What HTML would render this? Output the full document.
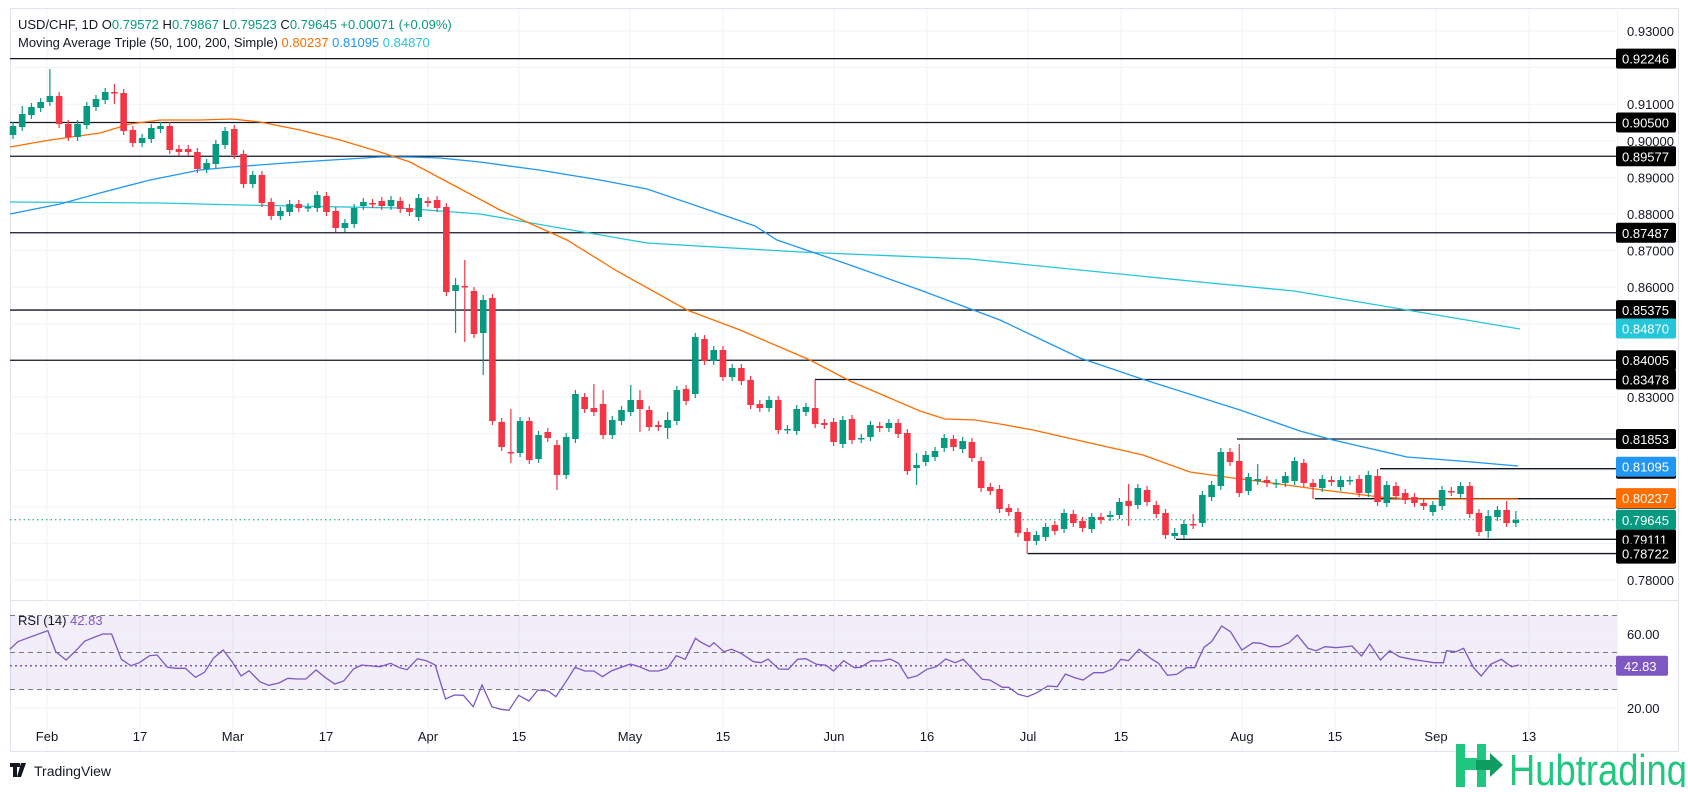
<!DOCTYPE html>
<html><head><meta charset="utf-8">
<style>
html,body{margin:0;padding:0;background:#fff;}
body{width:1688px;height:787px;overflow:hidden;font-family:"Liberation Sans",sans-serif;}
svg text{font-family:"Liberation Sans",sans-serif;}
</style></head>
<body>
<svg id="c" width="1688" height="787" xmlns="http://www.w3.org/2000/svg"></svg>
<script>
const S=document.getElementById('c');
let h='';
const Y=p=>31+(0.93-p)*3660;
// frame
h+='<rect x="10.5" y="8.5" width="1668" height="743" fill="none" stroke="#e0e3eb"/>';
h+='<line x1="10" y1="600.5" x2="1678" y2="600.5" stroke="#e0e3eb"/>';
h+='<line x1="1617.5" y1="8" x2="1617.5" y2="751" stroke="#f0f3fa"/>';
// grid
const months=[[47,'Feb'],[140,'17'],[233,'Mar'],[326,'17'],[428,'Apr'],[519,'15'],[630,'May'],[723,'15'],[834,'Jun'],[927,'16'],[1028,'Jul'],[1121,'15'],[1242,'Aug'],[1335,'15'],[1436,'Sep'],[1529,'13']];
months.forEach(m=>{h+=`<line x1="${m[0]}" y1="9" x2="${m[0]}" y2="751" stroke="#f0f3fa"/>`;
 h+=`<text x="${m[0]}" y="741" font-size="13" text-anchor="middle" fill="#131722">${m[1]}</text>`;});
for(let p=0.78;p<=0.931;p+=0.01){const y=Y(p);h+=`<line x1="10" y1="${y}" x2="1617" y2="${y}" stroke="#f0f3fa"/>`;}
// RSI pane
const R=v=>634+(60-v)*1.85;
h+=`<rect x="10" y="${R(70)}" width="1607" height="${R(30)-R(70)}" fill="#7e57c2" fill-opacity="0.1"/>`;
[60,20].forEach(v=>h+=`<line x1="10" y1="${R(v)}" x2="1617" y2="${R(v)}" stroke="#f0f3fa"/>`);
[70,50,30].forEach(v=>h+=`<line x1="10" y1="${R(v)}" x2="1617" y2="${R(v)}" stroke="#787b86" stroke-dasharray="5,4"/>`);
h+=`<line x1="10" y1="${R(42.83)}" x2="1617" y2="${R(42.83)}" stroke="#7e57c2" stroke-width="1.5" stroke-dasharray="2,3"/>`;
// horizontal levels
const full=[0.92246,0.905,0.89577,0.87487,0.85375,0.84005];
full.forEach(p=>h+=`<line x1="10" y1="${Y(p)}" x2="1617" y2="${Y(p)}" stroke="#131722" stroke-width="1.3"/>`);
const part=[[0.83478,815],[0.81853,1237],[0.81041,1380],[0.80221,1315],[0.79111,1176],[0.78722,1028]];
part.forEach(a=>{const y=Y(a[0]);h+=`<line x1="${a[1]}" y1="${y}" x2="1617" y2="${y}" stroke="#131722" stroke-width="1.3"/><line x1="${a[1]}" y1="${y}" x2="${a[1]}" y2="${y+(a[0]>0.82?0:0)}" stroke="#131722"/>`;});
h+=`<line x1="10" y1="${Y(0.79645)}" x2="1617" y2="${Y(0.79645)}" stroke="#089981" stroke-dasharray="1.5,3"/>`;
// MAs
const pl=(pts,col)=>h+=`<polyline fill="none" stroke="${col}" stroke-width="1.3" points="${pts.map(p=>p.join(',')).join(' ')}"/>`;
pl([[10,202],[160,203],[240,205],[400,208],[480,214],[560,228],[647,243],[800,252],[970,259],[1100,272],[1200,282],[1294,291],[1401,309],[1520,329]],'#26c6da');
pl([[10,214],[60,204],[100,193],[150,180],[200,170],[232,167],[300,162],[380,157],[410,157],[440,158],[480,162],[539,170],[600,180],[647,189],[700,207],[755,226],[777,240],[850,265],[920,290],[1000,320],[1080,358],[1145,380],[1240,410],[1300,431],[1333,440],[1407,457],[1460,461],[1518,466]],'#2196f3');
pl([[10,147],[50,140],[100,133],[130,124],[160,120],[200,120],[232,119],[260,122],[300,130],[340,140],[380,152],[410,162],[440,178],[500,210],[567,240],[617,271],[687,310],[740,330],[810,360],[850,381],[920,411],[945,419],[975,420],[1000,424],[1033,430],[1090,443],[1143,455],[1190,472],[1233,478],[1257,481],[1323,490],[1380,497],[1410,499],[1518,499]],'#ff6d00');
// candles [open,close,hi,lo]
const D=[[135,126],[127,114,106],[115,107],[108,102],[102,96,69],[96,124],[124,137],[137,124],[125,106],[107,99],[100,92],[92,93,84,104],[93,131],[130,143],[143,138],[139,128],[129,126],[126,150],[149,152],[149,152],[152,169],[169,163],[164,144],[145,131],[129,155],[154,184],[184,175],[175,203],[202,216],[216,211],[212,204],[204,208],[208,207],[208,195],[196,212],[211,228],[228,223],[224,208],[206,202],[203,204],[201,206],[206,200],[201,209],[208,212],[217,198],[201,203],[200,208],[207,292],[291,285,278,333],[286,287,260,342],[291,334],[333,300,295,375],[298,421],[422,447],[452,453,409,463],[453,421],[421,460],[459,435],[432,438],[445,475,440,490],[475,437],[439,394],[397,409],[408,412,384],[404,435,390],[435,420],[421,410],[412,400,385],[400,409,390,432],[410,427],[425,427],[428,420,412,439],[421,390],[389,401],[394,337,333],[339,361],[361,350],[350,377],[377,368],[368,381],[380,405],[404,408],[408,400],[400,430],[430,429],[431,409],[412,407],[408,424,380],[423,425],[422,442],[444,420],[419,440],[439,438],[437,425],[426,428],[428,423],[423,434],[433,471],[468,465,453,485],[462,455],[457,451],[448,438],[439,447],[449,441],[442,458],[461,488],[487,491],[489,509],[508,512],[512,533],[532,541,528,554],[541,535],[537,527],[525,531],[529,513],[514,523],[521,528],[529,517],[517,520],[517,515],[515,502],[501,506,484,526],[505,488],[490,502],[505,514],[513,535],[536,533,528,539],[535,524],[524,525,514],[523,495],[497,485],[486,452],[452,462],[461,493,444],[491,477],[481,479,464],[480,483],[484,483],[483,476],[481,461],[463,483],[483,487,479,499],[488,479],[480,482],[487,480],[481,480],[479,493],[493,475],[476,502,469],[503,485],[486,496],[493,500],[497,503],[503,506],[512,505],[506,490],[491,492],[494,486],[486,514],[513,532],[531,516,510,538],[517,510],[510,523,501],[523,520,511]];
D.forEach((d,i)=>{const x=13+9.22*i;const o=d[0],c=d[1];const g=c<o||(c==o);const col=c<=o?'#089981':'#f23645';
 const t=Math.min(o,c),b=Math.max(o,c);const hi=d[2]!==undefined?d[2]:t-4;const lo=d[3]!==undefined?d[3]:b+4;
 h+=`<line x1="${x}" y1="${hi}" x2="${x}" y2="${lo}" stroke="${col}" stroke-width="1.2"/>`;
 h+=`<rect x="${x-3.3}" y="${t}" width="6.6" height="${Math.max(b-t,1.5)}" fill="${col}"/>`;});
// RSI line
const z6=[[22,268],[40,245],[60,235],[107,212],[125,275],[148,300],[170,272],[190,243],[230,222],[250,222],[272,298],[293,317],[312,308],[335,287],[352,285],[375,322],[395,325],[415,325],[438,352],[458,337],[478,295],[500,270],[520,305],[540,348],[558,332],[582,365],[602,376],[625,369],[645,355],[665,357],[685,357],[708,330],[728,352],[750,372],[770,363],[792,327],[810,315],[832,318],[852,320],[875,310],[895,323],[912,329],[935,296],[955,302],[975,315],[998,417],[1018,405],[1038,406],[1060,440],[1080,375],[1102,440],[1122,448],[1140,451],[1162,406],[1185,423],[1205,390],[1228,393],[1245,410],[1268,365],[1288,322],[1310,333],[1330,333],[1350,350],[1370,332],[1392,322],[1412,312],[1432,320],[1455,333],[1475,333],[1495,325],[1515,287],[1535,298],[1558,235]].map(p=>[p[0]*0.4464,560+p[1]/3]);
const z7=[[0,245],[15,260],[22,248],[38,275],[50,268],[65,280],[85,305],[97,308],[108,297],[125,327],[140,328],[155,298],[168,296],[185,313],[200,316],[212,333],[228,302],[245,323],[255,322],[272,302],[288,303],[302,297],[315,310],[330,355],[345,347],[360,328],[375,320],[390,297],[405,308],[418,298],[448,358],[460,360],[480,382],[490,382],[505,403],[520,410],[535,398],[552,378],[567,380],[580,342],[595,353],[608,360],[625,338],[640,338],[655,327],[668,298],[680,302],[697,268],[715,295],[728,310],[742,346],[757,343],[772,323],[785,323],[800,262],[812,245],[828,198],[842,215],[860,270],[878,248],[890,250],[905,260],[920,260],[935,248],[948,225],[965,265],[978,272],[992,260],[1010,263],[1035,258],[1050,288],[1063,252],[1080,300],[1095,272],[1110,290],[1130,298],[1148,303],[1165,308],[1180,308],[1185,272],[1200,275],[1212,265],[1228,323],[1240,348],[1255,313],[1272,298],[1288,320],[1300,315]].map(p=>[700+p[0]*0.63,560+p[1]/3]);
pl(z6.concat(z7).map(p=>[p[0].toFixed(1),p[1].toFixed(1)]),'#7e57c2');
// price axis labels
const plain=[[0.93,'0.93000'],[0.91,'0.91000'],[0.90,'0.90000'],[0.89,'0.89000'],[0.88,'0.88000'],[0.87,'0.87000'],[0.86,'0.86000'],[0.83,'0.83000'],[0.78,'0.78000']];
plain.forEach(a=>h+=`<text x="1627" y="${Y(a[0])+5}" font-size="13" fill="#131722">${a[1]}</text>`);
const box=(y,t,bg)=>{h+=`<rect x="1616" y="${y-10}" width="60" height="20" rx="2" fill="${bg}"/><text x="1622" y="${y+5}" font-size="13" fill="#fff">${t}</text>`;};
[[0.92246,'0.92246'],[0.905,'0.90500'],[0.89577,'0.89577'],[0.87487,'0.87487'],[0.85375,'0.85375'],[0.84005,'0.84005'],[0.83478,'0.83478'],[0.81853,'0.81853'],[0.81041,'0.81041'],[0.80221,'0.80221'],[0.79111,'0.79111'],[0.78722,'0.78722']].forEach(a=>box(Y(a[0]),a[1],'#000'));
box(Y(0.8487),'0.84870','#26c6da');box(Y(0.81095),'0.81095','#2196f3');box(Y(0.80237),'0.80237','#ff6d00');box(Y(0.79645),'0.79645','#089981');
h+=`<text x="1627" y="${R(60)+5}" font-size="13" fill="#131722">60.00</text><text x="1627" y="${R(20)+5}" font-size="13" fill="#131722">20.00</text>`;
h+=`<rect x="1616" y="${R(42.83)-10}" width="52" height="20" rx="2" fill="#7e57c2"/><text x="1624" y="${R(42.83)+5}" font-size="13" fill="#fff">42.83</text>`;
// header
h+=`<text x="18" y="29" font-size="13" fill="#131722">USD/CHF, 1D <tspan>O</tspan><tspan fill="#089981">0.79572</tspan>  <tspan>H</tspan><tspan fill="#089981">0.79867</tspan>  <tspan>L</tspan><tspan fill="#089981">0.79523</tspan>  <tspan>C</tspan><tspan fill="#089981">0.79645  +0.00071 (+0.09%)</tspan></text>`;
h+=`<text x="18" y="47" font-size="13" fill="#131722">Moving Average Triple (50, 100, 200, Simple) <tspan fill="#ff6d00">0.80237</tspan>  <tspan fill="#2196f3">0.81095</tspan>  <tspan fill="#26c6da">0.84870</tspan></text>`;
h+=`<text x="18" y="625" font-size="13" fill="#131722">RSI (14) <tspan fill="#7e57c2">42.83</tspan></text>`;
// TradingView logo
h+=`<path d="M10 763h10v4h-3v10h-4v-10h-3z M21 763h5l-5 14h-4z" fill="#131722"/><circle cx="23" cy="765" r="2" fill="#131722"/>`;
h+=`<text x="34" y="776" font-size="14" fill="#131722">TradingView</text>`;
// Hubtrading logo
h+=`<path d="M1456 744h9v14h12v-14h9v43h-9v-17h-12v17h-9z" fill="#1fc77f"/><path d="M1476 760h14v-7l13 12-13 12v-7h-14z" fill="#0f9d62"/>`;
h+=`<text x="1509" y="785" font-size="44" fill="#1fc77f" textLength="178" lengthAdjust="spacingAndGlyphs">Hubtrading</text>`;
S.innerHTML=h;
</script>
</body></html>
